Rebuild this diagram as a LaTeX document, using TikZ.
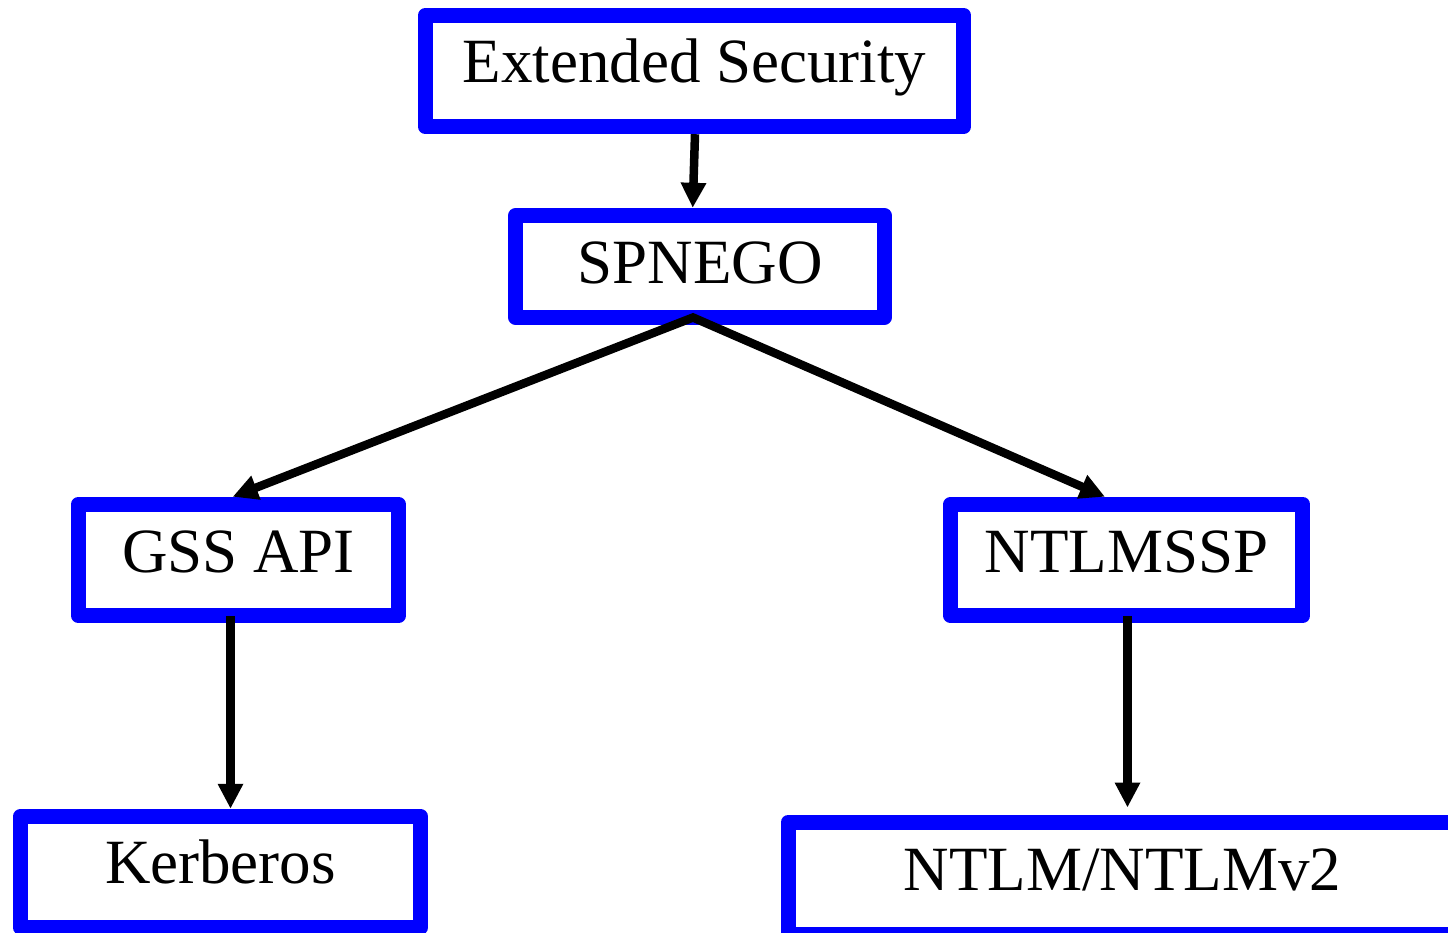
\documentclass[tikz,border=0pt]{standalone}
\usepackage{fontspec}
\setmainfont{Liberation Serif}
\usetikzlibrary{arrows.meta}

\definecolor{boxblue}{RGB}{0,0,255}

\begin{document}
\begin{tikzpicture}[x=1pt, y=-1pt,
  % framed label boxes: thick blue outline, text sitting on a fixed baseline
  layer/.style={draw=boxblue, line width=15pt, line join=round, fill=white,
    inner sep=0pt, font=\fontsize{63}{70}\selectfont},
  tip/.style={Triangle[length=25pt, width=24pt]},
  conn/.style={draw=black, line width=8.5pt, line join=miter, -{Triangle[length=25pt, width=24pt]}},
]
\useasboundingbox (0,0) rectangle (1448,933);

\node[layer, minimum width=538.5pt, text height=67.4pt, text depth=44pt]
  (ext) at (694.6,71) {Extended Security};
\node[layer, minimum width=368.4pt, text height=68pt, text depth=34.2pt]
  (spnego) at (700,266.4) {SPNEGO};
\node[layer, minimum width=320.4pt, text height=68.7pt, text depth=42.8pt]
  (gss) at (238.5,560) {GSS API};
\node[layer, minimum width=352.3pt, text height=68.7pt, text depth=42.8pt]
  (ntlmssp) at (1126.7,560) {NTLMSSP};
\node[layer, minimum width=400pt, text height=67.7pt, text depth=43.8pt]
  (kerb) at (220.5,872) {Kerberos};
\node[layer, minimum width=668.2pt, text height=68pt, text depth=44pt]
  (ntlm) at (1122.4,878) {NTLM/NTLMv2};

% connectors
\draw[conn] ([xshift=0.4pt]ext.south) -- ([xshift=-7.3pt]spnego.north);
\draw[conn, {Triangle[length=25pt, width=24pt]}-{Triangle[length=25pt, width=24pt]}]
  ([xshift=-5.8pt]gss.north) -- ([xshift=-7pt,yshift=7.5pt]spnego.south)
  -- ([xshift=-21.7pt]ntlmssp.north);
\draw[conn] ([xshift=-8pt,yshift=7.5pt]gss.south) -- ([xshift=10pt]kerb.north);
\draw[conn] ([xshift=0.8pt,yshift=7.5pt]ntlmssp.south) -- ([xshift=5.1pt,yshift=7pt]ntlm.north);
\end{tikzpicture}
\end{document}
